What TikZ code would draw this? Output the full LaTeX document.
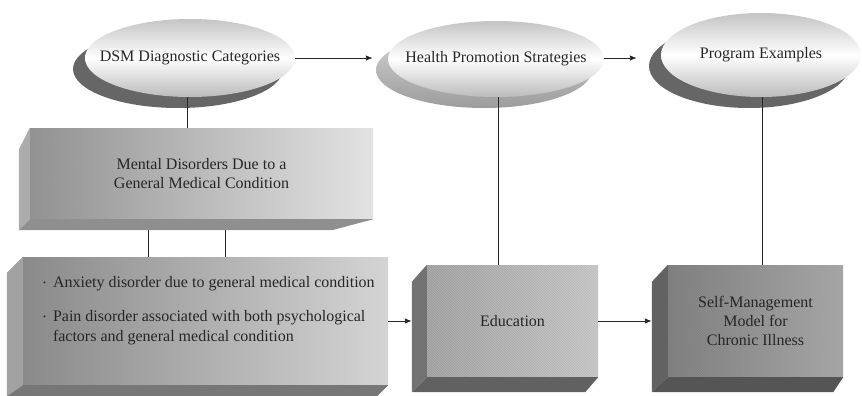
\documentclass[tikz,border=0pt]{standalone}
\usepackage{fontspec}
\setmainfont{Liberation Serif}
\usetikzlibrary{shapes.geometric,arrows.meta,calc,backgrounds}
\definecolor{ovtop}{HTML}{C4C4C4}
\definecolor{ovbot}{HTML}{BBBBBB}
\definecolor{shDark}{HTML}{666666}
\definecolor{shLtop}{HTML}{D4D4D4}
\definecolor{shLbot}{HTML}{9C9C9C}
\definecolor{mL}{HTML}{8E8E8E}
\definecolor{mR}{HTML}{E2E2E2}
\definecolor{mSide}{HTML}{ACACAC}
\definecolor{mBot}{HTML}{8F8F8F}
\definecolor{bL}{HTML}{8A8A8A}
\definecolor{bR}{HTML}{D4D4D4}
\definecolor{bSide}{HTML}{A2A2A2}
\definecolor{bBot}{HTML}{777777}
\definecolor{eL}{HTML}{989898}
\definecolor{eR}{HTML}{BEBEBE}
\definecolor{eSide}{HTML}{727272}
\definecolor{eBot}{HTML}{616161}
\definecolor{sL}{HTML}{7A7A7A}
\definecolor{sR}{HTML}{A2A2A2}
\definecolor{sSide}{HTML}{626262}
\definecolor{sBot}{HTML}{555555}
\definecolor{ink}{HTML}{262626}
% faces of a 3D slab: name, dx, dtop, dbot, right slant, side colour, bottom colour
\newcommand\slabfaces[7]{%
  \fill[#6] (#1.north west) -- ++(-#2,#3) -- ($(#1.south west)+(-#2,#4)$) -- (#1.south west) -- cycle;
  \fill[#7] (#1.south west) -- ++(-#2,#4) -- ($(#1.south east)+(-#5,#4)$) -- (#1.south east) -- cycle;
}
\begin{document}
\begin{tikzpicture}[x=1pt,y=-1pt,
  font=\fontsize{16}{19}\selectfont,
  every node/.style={text=ink},
  oval/.style={ellipse, inner sep=0pt, top color=ovtop, bottom color=ovbot, middle color=white},
  front/.style={rectangle, inner sep=0pt, align=center},
  hatch/.style={path picture={
      \foreach \i in {-135,-132.5,...,370}
        \draw[white, opacity=#1, line width=0.45pt]
          ([xshift=\i pt]path picture bounding box.north west) -- ++(135,135);}},
  link/.style={line width=0.9pt, draw=black!85},
  arr/.style={link, -{Latex[length=7pt,width=5.5pt]}},
]
\useasboundingbox (0,0) rectangle (862,396);

% ovals
\node[oval, minimum width=210pt, minimum height=78pt] (dsm) at (190,58) {\makebox[0pt]{DSM Diagnostic Categories}};
\node[oval, minimum width=216pt, minimum height=76pt] (hps) at (496,59) {\makebox[0pt]{Health Promotion Strategies}};
\node[oval, minimum width=200pt, minimum height=84pt] (pe) at (761,55) {\makebox[0pt]{Program Examples}};

% slabs (front faces)
\node[front, minimum width=343pt, minimum height=91pt, left color=mL, right color=mR, hatch=0.10] (m) at (201.5,173.5)
  {Mental Disorders Due to a\\General Medical Condition};
\node[front, minimum width=365pt, minimum height=128pt, left color=bL, right color=bR] (b) at (205.5,321) {};
\node[inner sep=0pt, anchor=west] (btext) at (43,310.5) {\renewcommand\arraystretch{1.05}%
  \begin{tabular}{@{}l@{\hspace{7pt}}l@{}}
  \raisebox{2pt}{\fontsize{8}{8}\selectfont\textbullet} & Anxiety disorder due to general medical condition\\[15pt]
  \raisebox{2pt}{\fontsize{8}{8}\selectfont\textbullet} & Pain disorder associated with both psychological\\
  & factors and general medical condition
  \end{tabular}};
\node[front, minimum width=171pt, minimum height=112pt, left color=eL, right color=eR, hatch=0.28] (e) at (512.5,321) {Education};
\node[front, minimum width=175pt, minimum height=112pt, left color=sL, right color=sR, hatch=0.10] (s) at (755.5,321)
  {Self-Management\\Model for\\Chronic Illness};

\begin{scope}[on background layer]
  % oval shadows
  \path[fill=shDark] ([shift={(-12,11)}]dsm.center) ellipse [x radius=105, y radius=39];
  \path[top color=shLtop, bottom color=shLbot] ([shift={(-12,11)}]hps.center) ellipse [x radius=108, y radius=38];
  \path[fill=shDark] ([shift={(-12,11)}]pe.center) ellipse [x radius=100, y radius=42];
\end{scope}

% slab side and bottom faces
\slabfaces{m}{11}{22}{11}{41}{mSide}{mBot}
\slabfaces{b}{16}{16}{11}{11}{bSide}{bBot}
\slabfaces{e}{15}{17}{15}{13}{eSide}{eBot}
\slabfaces{s}{16}{17}{15}{10}{sSide}{sBot}

% connectors
\coordinate (dsmA) at (dsm.east);
\coordinate (hpsW) at ([xshift=-15pt]hps.west);
\draw[arr] (dsmA) -- (dsmA -| hpsW);
\coordinate (hpsA) at ([yshift=1pt]hps.east);
\coordinate (peA) at ([xshift=-24pt]pe.west);
\draw[arr] (hpsA) -- (hpsA -| peA);
\coordinate (dsmB) at ([xshift=-3pt]dsm.south);
\draw[link] (dsmB) -- (dsmB |- m.north);
\coordinate (m1) at ([xshift=-53.5pt,yshift=-11pt]m.south);
\coordinate (m2) at ([xshift=23.5pt,yshift=-11pt]m.south);
\draw[link] (m1) -- (m1 |- b.north);
\draw[link] (m2) -- (m2 |- b.north);
\coordinate (hpsB) at ([xshift=2pt]hps.south);
\draw[link] (hpsB) -- (hpsB |- e.north);
\coordinate (peB) at ([xshift=1pt]pe.south);
\draw[link] (peB) -- (peB |- s.north);
\draw[arr] (b.east) -- ([xshift=-15pt]e.west);
\draw[arr] (e.east) -- ([xshift=-16pt]s.west);
\end{tikzpicture}
\end{document}
